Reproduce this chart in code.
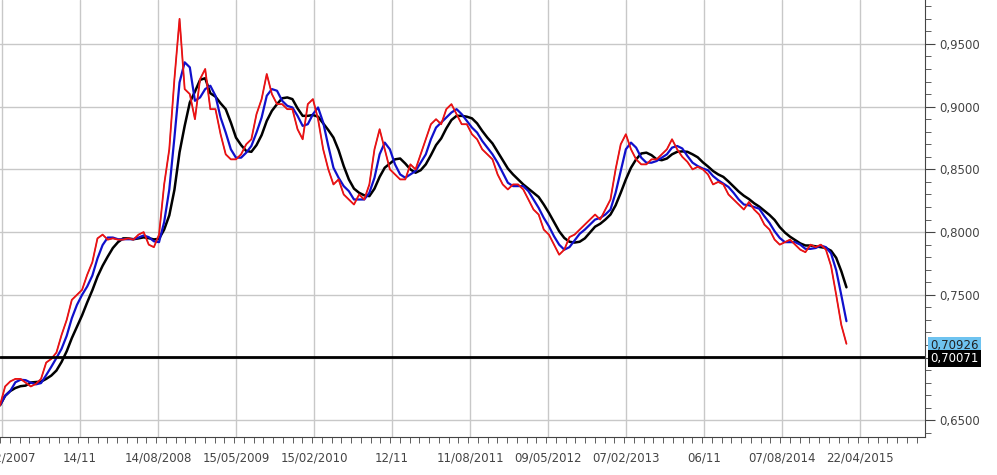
import numpy as np, pandas as pd, matplotlib
matplotlib.use("Agg")
import matplotlib.pyplot as plt, seaborn as sns
from matplotlib.ticker import MultipleLocator, FixedLocator

close_vals = [0.662,0.677,0.681,0.683,0.683,0.680,0.677,0.679,0.683,0.696,0.699,0.704,0.718,0.730,0.746,
 0.750,0.754,0.766,0.776,0.795,0.798,0.794,0.795,0.794,0.794,0.795,0.794,0.798,0.800,0.790,0.788,0.798,
 0.838,0.866,0.922,0.970,0.914,0.910,0.890,0.922,0.930,0.898,0.898,0.878,0.862,0.858,0.858,0.862,0.870,
 0.874,0.894,0.906,0.926,0.910,0.902,0.902,0.898,0.898,0.882,0.874,0.902,0.906,0.890,0.866,0.850,0.838,
 0.842,0.830,0.826,0.822,0.830,0.826,0.838,0.866,0.882,0.866,0.850,0.846,0.842,0.842,0.854,0.850,0.862,
 0.874,0.886,0.890,0.886,0.898,0.902,0.894,0.886,0.886,0.878,0.874,0.866,0.862,0.858,0.846,0.838,0.834,
 0.838,0.838,0.834,0.826,0.818,0.814,0.802,0.798,0.790,0.782,0.786,0.796,0.798,0.802,0.806,0.810,0.814,
 0.810,0.818,0.826,0.850,0.870,0.878,0.866,0.858,0.854,0.854,0.858,0.858,0.862,0.866,0.874,0.866,0.860,
 0.856,0.850,0.852,0.850,0.846,0.838,0.840,0.838,0.830,0.826,0.822,0.818,0.824,0.818,0.814,0.806,0.802,
 0.794,0.790,0.792,0.794,0.790,0.786,0.784,0.790,0.788,0.790,0.786,0.773,0.750,0.726,0.711]
tick_labels = ['15/02/2007','14/11','14/08/2008','15/05/2009','15/02/2010','12/11','11/08/2011',
               '09/05/2012','07/02/2013','06/11','07/08/2014','22/04/2015']
y_ticks = [0.65,0.70,0.75,0.80,0.85,0.90,0.95]
level = 0.70071
last_val = 0.70926

df = pd.DataFrame({'x': np.arange(len(close_vals))*5.13, 'close': close_vals})
df['ma_fast'] = df['close'].rolling(3, min_periods=1).mean()
df['ma_slow'] = df['close'].rolling(6, min_periods=1).mean()

sns.set_style("white")
fig = plt.figure(figsize=(9.97,4.75), dpi=100)
ax = fig.add_axes([0, 38/475, 925/997, 437/475])
for xv in np.arange(2, 925, 78):
    ax.axvline(xv, color='#c8c8c8', lw=1, zorder=0)
for yv in y_ticks:
    ax.axhline(yv, color='#c8c8c8', lw=1, zorder=0)
sns.lineplot(data=df, x='x', y='ma_slow', color='black', lw=1.8, ax=ax)
sns.lineplot(data=df, x='x', y='close', color='#4a6fa0', lw=0.8, ax=ax)
sns.lineplot(data=df, x='x', y='ma_fast', color='#1010cc', lw=1.6, ax=ax)
sns.lineplot(data=df, x='x', y='close', color='#ee1111', lw=1.3, ax=ax)
ax.axhline(level, color='black', lw=2)
ax.set_xlim(0, 925); ax.set_ylim(0.6367, 0.985)
ax.set_xlabel(''); ax.set_ylabel('')
ax.xaxis.set_major_locator(FixedLocator(np.arange(2, 925, 78)[:len(tick_labels)]))
ax.set_xticklabels(tick_labels)
ax.xaxis.set_minor_locator(MultipleLocator(9.75))
ax.yaxis.tick_right()
ax.set_yticks(y_ticks)
ax.set_yticklabels([f"{v:.4f}".replace('.', ',') for v in y_ticks])
ax.yaxis.set_minor_locator(MultipleLocator(0.01))
ax.tick_params(axis='both', which='major', length=7, color='#444', labelsize=8.5, labelcolor='#444')
ax.tick_params(axis='both', which='minor', length=4, color='#444', bottom=True, right=True)
ax.tick_params(axis='y', pad=3)
for s in ['top','left']:
    ax.spines[s].set_visible(False)
for s in ['bottom','right']:
    ax.spines[s].set_color('#444')
ax.text(1.006, last_val, f"{last_val:.5f}".replace('.', ','), transform=ax.get_yaxis_transform(),
        va='center', ha='left', fontsize=8.5, color='#222', bbox=dict(fc='#6ec3f0', ec='none', pad=1.5))
ax.text(1.006, level-0.0012, f"{level:.5f}".replace('.', ','), transform=ax.get_yaxis_transform(),
        va='center', ha='left', fontsize=8.5, color='white', bbox=dict(fc='black', ec='none', pad=1.5))
fig.savefig('out.png', dpi=100)
